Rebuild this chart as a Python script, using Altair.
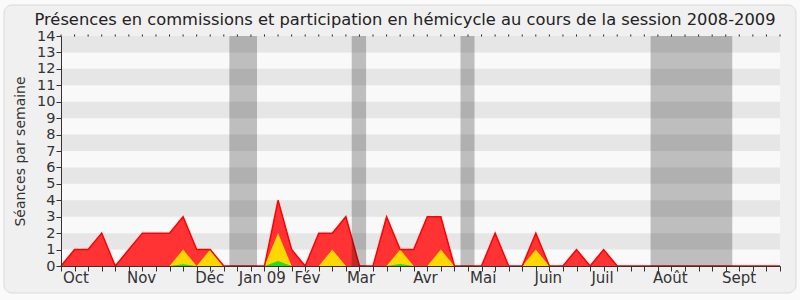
import altair as alt
import pandas as pd

# ---- data ----
weeks = list(range(54))
red = [0, 1, 1, 2, 0, 1, 2, 2, 2, 3, 1, 1, 0, 0, 0, 0, 4, 1, 0, 2,
       2, 3, 0, 0, 3, 1, 1, 3, 3, 0, 0, 0, 2, 0, 0, 2, 0, 0, 1, 0,
       1, 0, 0, 0, 0, 0, 0, 0, 0, 0, 0, 0, 0, 0]
yellow = [0, 0, 0, 0, 0, 0, 0, 0, 0, 1, 0, 1, 0, 0, 0, 0, 2, 0, 0, 0,
          1, 0, 0, 0, 0, 1, 0, 0, 1, 0, 0, 0, 0, 0, 0, 1, 0, 0, 0, 0,
          0, 0, 0, 0, 0, 0, 0, 0, 0, 0, 0, 0, 0, 0]
green = [0, 0, 0, 0, 0, 0, 0, 0, 0, 0.1, 0, 0, 0, 0, 0, 0, 0.3, 0, 0, 0,
         0, 0, 0, 0, 0, 0.12, 0, 0, 0, 0, 0, 0, 0, 0, 0, 0, 0, 0, 0, 0,
         0, 0, 0, 0, 0, 0, 0, 0, 0, 0, 0, 0, 0, 0]

vac_start = [12.41, 21.43, 29.45, 43.46]
vac_end = [14.45, 22.49, 30.48, 49.48]

month_labels = ["Oct", "Nov", "Déc", "Jan 09", "Fév", "Mar", "Avr", "Mai",
                "Juin", "Juil", "Août", "Sept"]
month_pos = [1.10, 5.94, 10.97, 14.84, 18.16, 22.12, 26.87, 31.12,
             35.92, 39.92, 44.92, 49.99]

y_ticks = list(range(15))
stripe_lo = [1, 3, 5, 7, 9, 11, 13]

TITLE = "Présences en commissions et participation en hémicycle au cours de la session 2008-2009"

FONT = "DejaVu Sans"
W, H = 719, 230

df = pd.DataFrame({"week": weeks, "red": red, "yellow": yellow, "green": green})
vac = pd.DataFrame({"start": vac_start, "end": vac_end})
months = pd.DataFrame({"label": month_labels, "pos": month_pos})
stripes = pd.DataFrame({"lo": stripe_lo, "hi": [s + 1 for s in stripe_lo]})

xscale = alt.Scale(domain=[0, 53], nice=False, zero=False)
yscale = alt.Scale(domain=[0, 14], nice=False)

XAXIS = alt.Axis(values=weeks, labels=False, title=None, grid=False,
                 tickSize=5, tickColor="#333333", domainColor="#333333",
                 labelOverlap=False, zindex=2)
YAXIS = alt.Axis(values=y_ticks, title="Séances par semaine",
                 grid=False, tickSize=5, tickColor="#333333",
                 domainColor="#333333", labelFont=FONT, labelFontSize=14.5,
                 labelColor="#333333", labelPadding=1, labelOverlap=False,
                 titleFont=FONT, titleFontSize=14, titleFontWeight="normal",
                 titleColor="#333333", titlePadding=9, zindex=2)


def X(f):
    return alt.X(f, scale=xscale, axis=XAXIS)


def Y(f):
    return alt.Y(f, scale=yscale, axis=YAXIS)


one = pd.DataFrame({"t": [TITLE]})

frame = alt.Chart(one).mark_rect(
    fill="#f0f0f0", stroke="#d9d9d9", strokeWidth=1, cornerRadius=8
).encode(x=alt.value(-57), x2=alt.value(735), y=alt.value(-31), y2=alt.value(257))

title_layer = alt.Chart(one).mark_text(
    font=FONT, fontSize=16.3, color="#222222", align="center", baseline="alphabetic"
).encode(x=alt.value(344), y=alt.value(-11.5), text="t:N")

plotbg = alt.Chart(one).mark_rect(fill="#f9f9f9").encode(
    x=alt.value(0), x2=alt.value(W), y=alt.value(0), y2=alt.value(H))

stripe_layer = alt.Chart(stripes).mark_rect(fill="#e6e6e6").encode(
    x=alt.value(0), x2=alt.value(W), y=Y("lo:Q"), y2="hi:Q")

base = alt.Chart(df)

top_ticks = base.mark_rule(color="#222222", strokeWidth=1).encode(
    x=X("week:Q"), y=alt.value(-1.5), y2=alt.value(0.5))

red_area = base.mark_area(color="#ff3333", opacity=1).encode(
    x=X("week:Q"), y=Y("red:Q"))
yellow_area = base.mark_area(color="#ffd700", opacity=1).encode(
    x=X("week:Q"), y=Y("yellow:Q"))
green_area = base.mark_area(color="#22dd22", opacity=1).encode(
    x=X("week:Q"), y=Y("green:Q"))
red_line = base.mark_line(color="#ff0000", strokeWidth=1.5).encode(
    x=X("week:Q"), y=Y("red:Q"))

vac_layer = alt.Chart(vac).mark_rect(color="#000000", opacity=0.235).encode(
    x=X("start:Q"), x2="end:Q", y=alt.value(0), y2=alt.value(H))

month_layer = alt.Chart(months).mark_text(
    font=FONT, fontSize=15, color="#333333", baseline="top", align="center"
).encode(x=X("pos:Q"), y=alt.value(H + 5), text="label:N")

chart = alt.layer(
    frame, title_layer, plotbg, stripe_layer, top_ticks, red_area, yellow_area,
    green_area, red_line, vac_layer, month_layer
).properties(
    width=W, height=H,
    autosize=alt.AutoSizeParams(type="none"),
    padding={"left": 61, "top": 36, "right": 20, "bottom": 34},
).configure_view(stroke=None).configure(background="#fafafa")

chart.save("out.html", embed_options={"renderer": "svg", "actions": False})
